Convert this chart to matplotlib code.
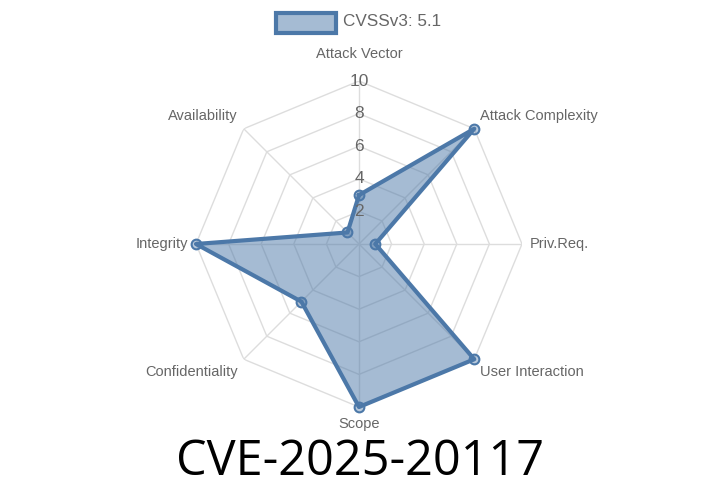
import numpy as np
import matplotlib
matplotlib.use("Agg")
import matplotlib.pyplot as plt
from matplotlib.patches import Rectangle

plt.rcParams['font.family'] = ['Liberation Sans', 'DejaVu Sans']

categories = ["Attack Vector", "Attack Complexity", "Priv.Req.", "User Interaction",
              "Scope", "Confidentiality", "Integrity", "Availability"]
values = [3, 10, 1, 10, 10, 5, 10, 1]
radial_ticks = [2, 4, 6, 8, 10]
series_label = "CVSSv3: 5.1"
title = "CVE-2025-20117"

line_color = '#4c78a8'
grid_color = '#dddddd'
text_color = '#666666'

fig = plt.figure(figsize=(7.2, 5.04), dpi=100)
cx, cy, R = 359, 244, 163
ax = fig.add_axes([(cx - R) / 720, (504 - cy - R) / 504, 2 * R / 720, 2 * R / 504], projection='polar')
ax.set_theta_offset(np.pi / 2)
ax.set_theta_direction(-1)
ax.set_ylim(0, 10)
ax.grid(False)
ax.set_xticks([])
ax.set_yticks([])
ax.spines['polar'].set_visible(False)
ax.patch.set_visible(False)

n = len(categories)
angles = np.linspace(0, 2 * np.pi, n, endpoint=False)

# octagonal grid
closed_angles = np.append(angles, angles[0])
for t in radial_ticks:
    ax.plot(closed_angles, [t] * (n + 1), color=grid_color, lw=1, zorder=1)
for a in angles:
    ax.plot([a, a], [0, 10], color=grid_color, lw=1, zorder=1)

# data
vals = np.append(values, values[0])
ax.fill(closed_angles, vals, color=line_color, alpha=0.5, zorder=2, lw=0, clip_on=False)
ax.plot(closed_angles, vals, color=line_color, lw=3, zorder=3, solid_joinstyle='round', clip_on=False)
ax.plot(angles, values, 'o', ms=7, mfc=(0.3, 0.47, 0.66, 0.4), mec=line_color, mew=1.5, zorder=4, clip_on=False)

# radial tick labels
for t in radial_ticks:
    ax.text(0, t, str(t), ha='center', va='center', fontsize=12.5, color=text_color, zorder=5)

# category labels
label_specs = [
    (11.2, 'center', 'bottom'),
    (10.5, 'left', 'bottom'),
    (10.5, 'left', 'center'),
    (10.5, 'left', 'top'),
    (10.6, 'center', 'top'),
    (10.5, 'right', 'top'),
    (10.5, 'right', 'center'),
    (10.5, 'right', 'bottom'),
]
for a, cat, (r, ha, va) in zip(angles, categories, label_specs):
    ax.text(a, r, cat, ha=ha, va=va, fontsize=10.5, color=text_color, clip_on=False)

# legend
fig.patches.append(Rectangle((276 / 720, 1 - 33 / 504), 60 / 720, 20 / 504,
                             transform=fig.transFigure, facecolor='#a5bbd3',
                             edgecolor=line_color, lw=3))
fig.text(343 / 720, 1 - 22 / 504, series_label, ha='left', va='center', fontsize=12.3, color=text_color)

fig.text(360 / 720, 1 - 462 / 504, title, ha='center', va='center', fontsize=35,
         family=['Open Sans', 'DejaVu Sans'], color='black')

fig.savefig('out.png', dpi=100)
